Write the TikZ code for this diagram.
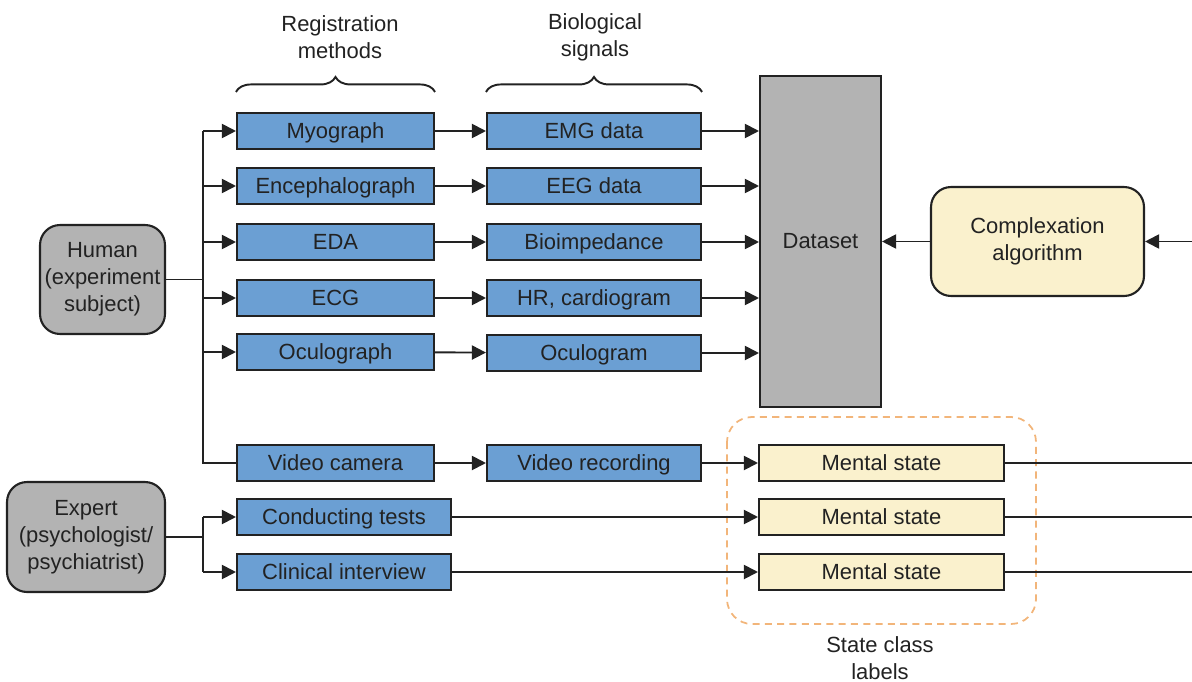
\documentclass[tikz,border=0pt]{standalone}
\usepackage{fontspec}
\setmainfont{Liberation Sans}
\usetikzlibrary{arrows.meta,decorations.pathreplacing}
\definecolor{boxblue}{HTML}{6B9FD3}
\definecolor{boxgray}{HTML}{B3B3B3}
\definecolor{boxyellow}{HTML}{FAF1CD}
\definecolor{dashorange}{HTML}{F2B57A}
\definecolor{ink}{HTML}{222222}
\begin{document}
\begin{tikzpicture}[x=0.02cm, y=-0.02cm,
	every node/.style={font=\fontsize{12.5}{15.4}\selectfont, text=ink},
	box/.style={draw=ink, line width=1.2pt, inner sep=0pt, minimum height=0.72cm},
	flatbox/.style={box, text height=10.5pt, text depth=1.5pt},
	regbox/.style={flatbox, fill=boxblue, minimum width=3.94cm},
	sigbox/.style={flatbox, fill=boxblue, minimum width=4.28cm},
	statebox/.style={flatbox, fill=boxyellow, minimum width=4.9cm},
	roundbox/.style={box, rounded corners=0.4cm, align=center},
	arr/.style={draw=ink, line width=1.1pt, -{Triangle[length=8pt, width=8pt]}},
	conn/.style={draw=ink, line width=1.1pt},
	brace/.style={draw=ink, line width=1.1pt, decorate, decoration={brace, amplitude=0.3cm}},
	lbl/.style={align=center}]
	\useasboundingbox(0, 0)rectangle(1192, 682);
	% sources
	\node[roundbox, fill=boxgray, minimum width=2.5cm, minimum height=2.18cm](human)at(102.5, 279.5){Human\\(experiment\\subject)};
	\node[roundbox, fill=boxgray, minimum width=3.16cm, minimum height=2.2cm](expert)at(86, 537){Expert\\(psychologist/\\psychiatrist)};
	% registration methods
	\node[regbox](myo)at(335.5, 131){Myograph};
	\node[regbox](enc)at(335.5, 186){Encephalograph};
	\node[regbox](eda)at(335.5, 242){EDA};
	\node[regbox](ecg)at(335.5, 298){ECG};
	\node[regbox](ocu)at(335.5, 352){Oculograph};
	\node[regbox](cam)at(335.5, 463){Video camera};
	\node[sigbox](tests)at(344, 517){Conducting tests};
	\node[sigbox](interview)at(344, 572){Clinical interview};
	% biological signals
	\node[sigbox](emg)at(594, 131){EMG data};
	\node[sigbox](eeg)at(594, 186){EEG data};
	\node[sigbox](bio)at(594, 242){Bioimpedance};
	\node[sigbox](hr)at(594, 298){HR, cardiogram};
	\node[sigbox](ogram)at(594, 353){Oculogram};
	\node[sigbox](rec)at(594, 463){Video recording};
	% dataset and algorithm
	\node[box, fill=boxgray, minimum width=2.42cm, minimum height=6.62cm](dataset)at(820.5, 241.5){Dataset};
	\node[roundbox, fill=boxyellow, minimum width=4.26cm, minimum height=2.18cm](alg)at(1037.5, 241.5){Complexation\\algorithm};
	% state class labels
	\draw[dashorange, line width=1pt, dash pattern=on 4pt off 3pt, rounded corners=0.5cm](727, 417)rectangle(1036, 624);
	\node[statebox](ms1)at(881.5, 463){Mental state};
	\node[statebox](ms2)at(881.5, 517){Mental state};
	\node[statebox](ms3)at(881.5, 572){Mental state};
	% headings
	\draw[brace]([yshift=0.4cm]myo.north west)--([yshift=0.4cm]myo.north east);
	\draw[brace]([yshift=0.4cm]emg.north west)--([yshift=0.4cm]emg.north east);
	\node[lbl](reghead)at(340, 37){Registration\\methods};
	\node[lbl](sighead)at(595, 37){Biological\\signals};
	\node[lbl](statehead)at(880, 658){State class\\labels};
	% connectors
	\coordinate(hj)at(203, 279.5);
	\coordinate(ej)at(203, 537);
	\coordinate(rin)at(1192, 241.5);
	\draw[conn](human)--(hj);
	\draw[conn](hj |- myo)--(hj |- cam)--(cam);
	\foreach \n in {myo, enc, eda, ecg, ocu}
		\draw[arr](hj |- \n)--(\n);
	\draw[conn](expert)--(ej);
	\draw[conn](ej |- tests)--(ej |- interview);
	\draw[arr](ej |- tests)--(tests);
	\draw[arr](ej |- interview)--(interview);
	\foreach \a/\b in {myo/emg, enc/eeg, eda/bio, ecg/hr, ocu/ogram, cam/rec}
		\draw[arr](\a)--(\b);
	\foreach \n in {emg, eeg, bio, hr, ogram}
		\draw[arr](\n)--(\n -| dataset.west);
	\draw[arr](alg)--(dataset);
	\draw[arr](rin)--(alg);
	\draw[arr](rec)--(ms1);
	\draw[arr](tests)--(ms2);
	\draw[arr](interview)--(ms3);
	\foreach \n in {ms1, ms2, ms3}
		\draw[conn](\n)--(\n -| rin);
\end{tikzpicture}
\end{document}
